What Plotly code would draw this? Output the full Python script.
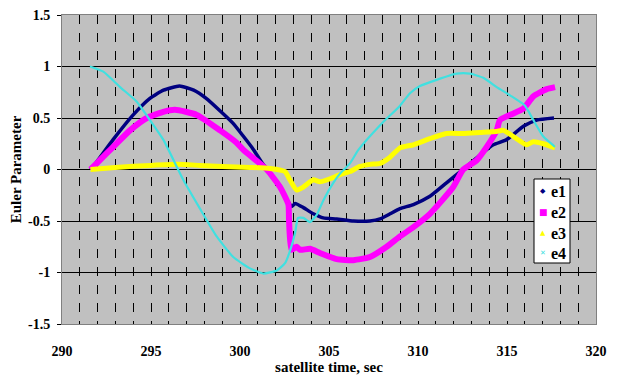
import plotly.graph_objects as go

# ---- data ----
t1 = [291.6, 291.76, 292.87, 294.0, 294.94, 295.7, 296.6, 297.4, 298.1, 299.6, 300.2, 300.73,
      301.3, 302.25, 302.6, 302.9, 303.1, 303.56, 304.12, 304.68, 305.43, 306.37, 307.3, 307.87,
      308.43, 308.99, 309.74, 310.67, 311.6, 312.74, 313.48, 314.23, 314.98, 315.92, 316.67, 317.64]
e1 = [0.00, 0.03, 0.29, 0.53, 0.69, 0.77, 0.81, 0.77, 0.69, 0.45, 0.32, 0.20,
      0.05, -0.16, -0.28, -0.36, -0.33, -0.37, -0.43, -0.47, -0.48, -0.50, -0.50, -0.48,
      -0.43, -0.38, -0.34, -0.26, -0.13, 0.03, 0.14, 0.24, 0.29, 0.42, 0.48, 0.50]

t2 = [291.6, 291.95, 292.88, 293.82, 294.76, 295.69, 296.35, 297.57, 298.88, 299.81, 300.19,
      301.5, 302.25, 302.72, 302.75, 302.78, 302.82, 302.9, 303.18, 303.37, 303.93, 304.49,
      305.43, 306.37, 307.3, 308.24, 308.99, 309.74, 310.67, 311.98, 312.54, 313.3, 313.86,
      314.42, 314.6, 315.17, 315.92, 316.48, 317.23, 317.7]
e2 = [0.00, 0.06, 0.22, 0.38, 0.50, 0.56, 0.58, 0.53, 0.38, 0.26, 0.19,
      0.00, -0.17, -0.34, -0.47, -0.59, -0.69, -0.78, -0.75, -0.78, -0.77, -0.81,
      -0.87, -0.88, -0.85, -0.75, -0.65, -0.56, -0.43, -0.17, 0.00, 0.09, 0.22,
      0.38, 0.48, 0.53, 0.59, 0.71, 0.78, 0.80]

t3 = [291.6, 293.0, 295.0, 296.5, 297.75, 299.0, 300.56, 301.69, 302.53, 302.8, 303.18, 303.56,
      304.12, 304.49, 305.06, 305.62, 306.18, 306.74, 307.3, 307.87, 308.43, 308.99, 309.74,
      310.67, 311.6, 312.54, 313.48, 314.42, 314.8, 315.36, 316.1, 316.48, 317.04, 317.7]
e3 = [0.00, 0.02, 0.04, 0.05, 0.04, 0.03, 0.02, 0.01, -0.02, -0.10, -0.20, -0.17,
      -0.10, -0.12, -0.09, -0.05, -0.02, 0.03, 0.05, 0.06, 0.12, 0.21, 0.24,
      0.30, 0.35, 0.35, 0.36, 0.37, 0.38, 0.32, 0.24, 0.27, 0.25, 0.21]

t4 = [291.57, 292.32, 293.26, 294.19, 294.94, 295.69, 296.44, 296.81, 297.75, 298.69, 299.62,
      300.56, 301.31, 302.06, 302.53, 302.81, 303.09, 303.26, 303.56, 303.93, 304.31, 304.68,
      305.24, 305.62, 306.18, 306.65, 307.87, 308.99, 309.55, 310.11, 311.05, 312.17, 312.92,
      313.67, 314.42, 315.17, 316.01, 316.48, 317.04, 317.7]
e4 = [1.00, 0.95, 0.80, 0.66, 0.48, 0.29, 0.03, -0.10, -0.38, -0.65, -0.85,
      -0.96, -1.01, -0.98, -0.91, -0.79, -0.62, -0.47, -0.47, -0.51, -0.44, -0.30,
      -0.13, -0.04, 0.06, 0.19, 0.43, 0.62, 0.74, 0.81, 0.87, 0.93, 0.93,
      0.89, 0.80, 0.72, 0.62, 0.48, 0.32, 0.22]

names = ["e1", "e2", "e3", "e4"]
colors = ["#000080", "#FF00FF", "#FFFF00", "#40E0E0"]
widths = [3.5, 6, 5, 2.2]
xs = [t1, t2, t3, t4]
ys = [e1, e2, e3, e4]
x_ticks = [290, 295, 300, 305, 310, 315, 320]
y_ticks = [-1.5, -1, -0.5, 0, 0.5, 1, 1.5]
y_ticktext = ["-1.5", "-1", "-0.5", "0", "0.5", "1", "1.5"]

fig = go.Figure()
for x, y, n, c, w in zip(xs, ys, names, colors, widths):
    fig.add_trace(go.Scatter(x=x, y=y, mode="lines", name=n, showlegend=False,
                             line=dict(color=c, width=w, shape="spline", smoothing=0.5)))

serif = "Times New Roman"
# page has an 8px body margin, so the figure is 8px smaller and plot area shifted
fig.update_layout(
    width=611, height=378,
    margin=dict(l=54, r=23, t=7, b=62, autoexpand=False),
    paper_bgcolor="white", plot_bgcolor="#C0C0C0",
    font=dict(family=serif, size=13, color="black"),
    showlegend=False,
)
fig.update_xaxes(
    range=[290, 320], tickvals=x_ticks, ticktext=[str(v) for v in x_ticks],
    showgrid=True, gridcolor="black", griddash="dash", gridwidth=1,
    minor=dict(dtick=1, showgrid=True, gridcolor="black", griddash="dash", gridwidth=1,
               ticks="inside", ticklen=3, tickcolor="black"),
    ticks="inside", ticklen=3, tickcolor="black",
    showline=True, linecolor="#808080", linewidth=1, mirror=True,
    zeroline=False, ticklabelstandoff=14, automargin=False, ticklabeloverflow="allow",
    tickfont=dict(family=serif, size=14, color="black", weight="bold"),
    title=dict(text="<b>satellite time, sec</b>", font=dict(family=serif, size=15), standoff=2),
)
fig.update_yaxes(
    range=[-1.5, 1.5], tickvals=y_ticks, ticktext=y_ticktext,
    showgrid=True, gridcolor="black", gridwidth=1,
    ticks="outside", ticklen=4, tickcolor="black",
    showline=True, linecolor="#808080", linewidth=1, mirror=True,
    zeroline=False, ticklabelstandoff=4, automargin=False, ticklabeloverflow="allow",
    tickfont=dict(family=serif, size=14, color="black", weight="bold"),
    title=dict(text="<b>Euler Parameter</b>", font=dict(family=serif, size=15), standoff=8),
)

# manual legend (Excel style)
def px(xp):
    return (xp - 62) / 534
def py(yp):
    return (324 - yp) / 309

fig.add_shape(type="rect", xref="paper", yref="paper",
              x0=px(534), x1=px(570), y0=py(263), y1=py(179),
              line=dict(color="black", width=1), fillcolor="white", layer="above")
symbols = ["◆", "■", "▲", "✕"]
sym_sizes = [7, 9, 7, 7]
rows = [191, 212, 233, 253]
for s, ss, c, n, r in zip(symbols, sym_sizes, colors, names, rows):
    fig.add_annotation(xref="paper", yref="paper", x=px(543), y=py(r), text=s,
                       showarrow=False, font=dict(family="DejaVu Sans", size=ss, color=c),
                       xanchor="center", yanchor="middle")
    fig.add_annotation(xref="paper", yref="paper", x=px(551), y=py(r), text="<b>%s</b>" % n,
                       showarrow=False, font=dict(family=serif, size=16, color="black"),
                       xanchor="left", yanchor="middle", xshift=-2)

fig.write_html("out.html")
